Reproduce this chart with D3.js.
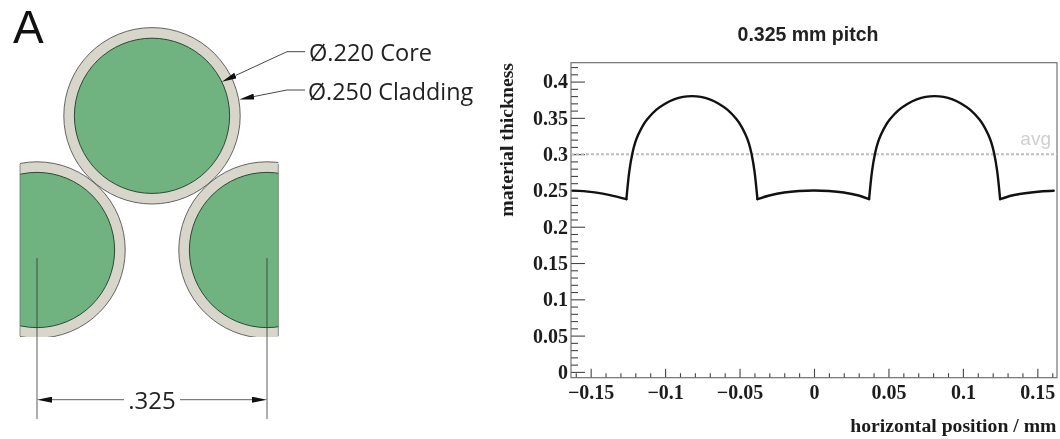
<!DOCTYPE html>
<html>
<head>
<meta charset="utf-8">
<script src="https://cdn.jsdelivr.net/npm/d3@7"></script>
<style>
	html, body { margin: 0; padding: 0; background: #fff; }
	svg { display: block; filter: blur(0.35px); }
	.serif { font-family: "Liberation Serif", serif; font-weight: bold; fill: #1c1c1c; }
	.sketch { font-family: "Open Sans", sans-serif; fill: #222; }
</style>
</head>
<body>
<script>
// fibre layout, mm
var fibreX = [0, -0.1625, 0.1625];
var fibreY = [0, 0.19, 0.19];
var coreDiameter = 0.22;
var claddingDiameter = 0.25;
var pitch = 0.325;

// thickness profile
var position = [-0.162, -0.155, -0.146, -0.137, -0.126,
	-0.124, -0.122, -0.120, -0.118, -0.115, -0.112, -0.106, -0.100, -0.094, -0.088, -0.082,
	-0.076, -0.070, -0.064, -0.058, -0.052, -0.049, -0.046, -0.044, -0.042, -0.040, -0.038,
	-0.030, -0.020, -0.010, 0, 0.010, 0.020, 0.030, 0.037,
	0.039, 0.041, 0.043, 0.045, 0.048, 0.051, 0.057, 0.063, 0.069, 0.075, 0.081,
	0.087, 0.093, 0.099, 0.105, 0.111, 0.114, 0.117, 0.119, 0.121, 0.123, 0.125,
	0.133, 0.143, 0.152, 0.161];
var thickness = [0.2497, 0.2490, 0.2470, 0.2435, 0.238,
	0.277, 0.301, 0.3165, 0.327, 0.339, 0.348, 0.361, 0.3695, 0.3755, 0.379, 0.380,
	0.379, 0.3755, 0.3695, 0.361, 0.348, 0.339, 0.327, 0.3165, 0.301, 0.277, 0.238,
	0.2430, 0.2472, 0.2493, 0.250, 0.2493, 0.2472, 0.2430, 0.238,
	0.277, 0.301, 0.3165, 0.327, 0.339, 0.348, 0.361, 0.3695, 0.3755, 0.379, 0.380,
	0.379, 0.3755, 0.3695, 0.361, 0.348, 0.339, 0.327, 0.3165, 0.301, 0.277, 0.238,
	0.2430, 0.2465, 0.2485, 0.2495];
var average = 0.3;

// axis ticks
var xMajor = [-0.15, -0.1, -0.05, 0, 0.05, 0.1, 0.15];
var xMajorLabels = ["\u22120.15", "\u22120.1", "\u22120.05", "0", "0.05", "0.1", "0.15"];
var xMinor = [-0.16, -0.14, -0.13, -0.12, -0.11, -0.09, -0.08, -0.07, -0.06, -0.04, -0.03, -0.02, -0.01,
	0.01, 0.02, 0.03, 0.04, 0.06, 0.07, 0.08, 0.09, 0.11, 0.12, 0.13, 0.14, 0.16];
var yMajor = [0, 0.05, 0.1, 0.15, 0.2, 0.25, 0.3, 0.35, 0.4];
var yMajorLabels = ["0", "0.05", "0.1", "0.15", "0.2", "0.25", "0.3", "0.35", "0.4"];
var yMinor = [0.01, 0.02, 0.03, 0.04, 0.06, 0.07, 0.08, 0.09, 0.11, 0.12, 0.13, 0.14,
	0.16, 0.17, 0.18, 0.19, 0.21, 0.22, 0.23, 0.24, 0.26, 0.27, 0.28, 0.29,
	0.31, 0.32, 0.33, 0.34, 0.36, 0.37, 0.38, 0.39, 0.41, 0.42];

var svg = d3.select("body").append("svg")
	.attr("width", 1060)
	.attr("height", 439);

var defs = svg.append("defs");
// tip points along +x, reversed at line starts so it sticks out past the point
defs.append("marker")
	.attr("id", "arrow")
	.attr("viewBox", "0 0 15 6")
	.attr("refX", 0).attr("refY", 3)
	.attr("markerWidth", 15).attr("markerHeight", 6)
	.attr("markerUnits", "userSpaceOnUse")
	.attr("orient", "auto-start-reverse")
	.append("path")
	.attr("d", "M0,0L15,3L0,6Z")
	.attr("fill", "#111");
defs.append("clipPath").attr("id", "cut")
	.append("rect").attr("x", 20).attr("y", 161).attr("width", 258.3).attr("height", 176);

// ---- left: fibre sketch ----
var sx = d3.scaleLinear().domain([0, pitch / 2]).range([152, 267]);
var sy = d3.scaleLinear().domain([0, 0.19]).range([115.8, 250]);
var r = d3.scaleLinear().domain([0, 0.125]).range([0, 88.2]);

var sketch = svg.append("g");
var fibres = d3.range(fibreX.length).map(function(i) { return {x: fibreX[i], y: fibreY[i]}; });

var fibre = sketch.selectAll("g.fibre")
	.data(fibres)
	.enter().append("g")
	.attr("class", "fibre")
	.attr("clip-path", function(d) { return d.y > 0 ? "url(#cut)" : null; });
fibre.append("circle")
	.attr("cx", function(d) { return sx(d.x); })
	.attr("cy", function(d) { return sy(d.y); })
	.attr("r", r(claddingDiameter / 2))
	.attr("fill", "#d8d5ca")
	.attr("stroke", "#555")
	.attr("stroke-width", 0.9);
fibre.append("circle")
	.attr("cx", function(d) { return sx(d.x); })
	.attr("cy", function(d) { return sy(d.y); })
	.attr("r", r(coreDiameter / 2))
	.attr("fill", "#70b380")
	.attr("stroke", "#2b4a36")
	.attr("stroke-width", 1);

// cut edges of the two lower fibres
sketch.selectAll("line.edge")
	.data([20, 278.3])
	.enter().append("line")
	.attr("class", "edge")
	.attr("x1", function(d) { return d; })
	.attr("x2", function(d) { return d; })
	.attr("y1", 164).attr("y2", 336)
	.attr("stroke", "#6a7a6c")
	.attr("stroke-width", 0.8);

// pitch dimension
sketch.selectAll("line.ext")
	.data([-pitch / 2, pitch / 2])
	.enter().append("line")
	.attr("class", "ext")
	.attr("x1", function(d) { return sx(d); })
	.attr("x2", function(d) { return sx(d); })
	.attr("y1", 258).attr("y2", 419)
	.attr("stroke", "#333")
	.attr("stroke-width", 0.8);
sketch.append("line")
	.attr("x1", 52).attr("y1", 399.7).attr("x2", 124).attr("y2", 399.7)
	.attr("stroke", "#333").attr("stroke-width", 0.8)
	.attr("marker-start", "url(#arrow)");
sketch.append("line")
	.attr("x1", 252).attr("y1", 399.7).attr("x2", 180).attr("y2", 399.7)
	.attr("stroke", "#333").attr("stroke-width", 0.8)
	.attr("marker-start", "url(#arrow)");
sketch.append("text").attr("class", "sketch")
	.attr("x", 152).attr("y", 409)
	.attr("text-anchor", "middle")
	.style("font-size", "24px")
	.text(".325");

// leaders
sketch.append("path")
	.attr("d", "M235.5,75.5L287,51.7H305")
	.attr("fill", "none").attr("stroke", "#333").attr("stroke-width", 0.9)
	.attr("marker-start", "url(#arrow)");
sketch.append("path")
	.attr("d", "M254,96.5L287,90H305")
	.attr("fill", "none").attr("stroke", "#333").attr("stroke-width", 0.9)
	.attr("marker-start", "url(#arrow)");
sketch.append("text").attr("class", "sketch")
	.attr("x", 309).attr("y", 61)
	.style("font-size", "23.6px")
	.text("\u00d8.220 Core");
sketch.append("text").attr("class", "sketch")
	.attr("x", 308).attr("y", 100)
	.style("font-size", "23.3px")
	.text("\u00d8.250 Cladding");
svg.append("text")
	.attr("x", 13).attr("y", 43)
	.style("font-family", "'Liberation Sans', sans-serif")
	.style("font-size", "46px")
	.style("fill", "#111")
	.text("A");

// ---- right: thickness plot ----
var x = d3.scaleLinear().domain([-0.1632, 0.1632]).range([571, 1057]);
var y = d3.scaleLinear().domain([-0.008, 0.426]).range([377.7, 62.7]);

var plot = svg.append("g");

function styleAxis(g) {
	g.select(".domain").remove();
	g.selectAll(".tick line").attr("stroke", "#444").attr("stroke-width", 1.1);
	g.selectAll("text").attr("class", "serif").style("font-size", "20px").attr("fill", null);
}

plot.append("g")
	.attr("transform", "translate(0,377.7)")
	.call(d3.axisBottom(x).tickValues(xMinor).tickSize(-4.5).tickFormat(""))
	.call(styleAxis);
plot.append("g")
	.attr("transform", "translate(0,377.7)")
	.call(d3.axisBottom(x).tickValues(xMajor).tickSize(-9).tickPadding(7)
		.tickFormat(function(d, i) { return xMajorLabels[i]; }))
	.call(styleAxis);
plot.append("g")
	.attr("transform", "translate(571,0)")
	.call(d3.axisLeft(y).tickValues(yMinor).tickSize(-7).tickFormat(""))
	.call(styleAxis);
plot.append("g")
	.attr("transform", "translate(571,0)")
	.call(d3.axisLeft(y).tickValues(yMajor).tickSize(-14).tickPadding(3)
		.tickFormat(function(d, i) { return yMajorLabels[i]; }))
	.call(styleAxis);

// frame
plot.append("rect")
	.attr("x", x.range()[0]).attr("y", y.range()[1])
	.attr("width", x.range()[1] - x.range()[0])
	.attr("height", y.range()[0] - y.range()[1])
	.attr("fill", "none")
	.attr("stroke", "#666")
	.attr("stroke-width", 1.1);

// average
plot.append("line")
	.attr("x1", x.range()[0]).attr("x2", x.range()[1])
	.attr("y1", y(average)).attr("y2", y(average))
	.attr("stroke", "#bdbdbd")
	.attr("stroke-width", 2)
	.attr("stroke-dasharray", "3,2");
plot.append("text")
	.attr("x", 1051).attr("y", 145)
	.attr("text-anchor", "end")
	.style("font-family", "'Liberation Sans', sans-serif")
	.style("font-size", "19px")
	.style("fill", "#cfcfcf")
	.text("avg");

// profile, one smooth piece between each pair of corners at the lobe edges
var points = d3.zip(position, thickness);
var pieces = [[]];
points.forEach(function(p) {
	pieces[pieces.length - 1].push(p);
	if (p[1] === 0.238) pieces.push([p]);
});
var line = d3.line()
	.curve(d3.curveCatmullRom)
	.x(function(d) { return x(d[0]); })
	.y(function(d) { return y(d[1]); });
plot.selectAll("path.profile")
	.data(pieces)
	.enter().append("path")
	.attr("class", "profile")
	.attr("d", line)
	.attr("fill", "none")
	.attr("stroke", "#111")
	.attr("stroke-width", 2.4)
	.attr("stroke-linecap", "round");

// titles
plot.append("text")
	.attr("x", 808).attr("y", 41)
	.attr("text-anchor", "middle")
	.style("font-family", "'Liberation Sans', sans-serif")
	.style("font-weight", "bold")
	.style("font-size", "19.5px")
	.style("fill", "#222")
	.text("0.325 mm pitch");
plot.append("text").attr("class", "serif")
	.attr("x", 1056.5).attr("y", 432)
	.attr("text-anchor", "end")
	.style("font-size", "19.7px")
	.text("horizontal position / mm");
plot.append("text").attr("class", "serif")
	.attr("transform", "translate(513,63) rotate(-90)")
	.attr("text-anchor", "end")
	.style("font-size", "19.7px")
	.text("material thickness");
</script>
</body>
</html>
